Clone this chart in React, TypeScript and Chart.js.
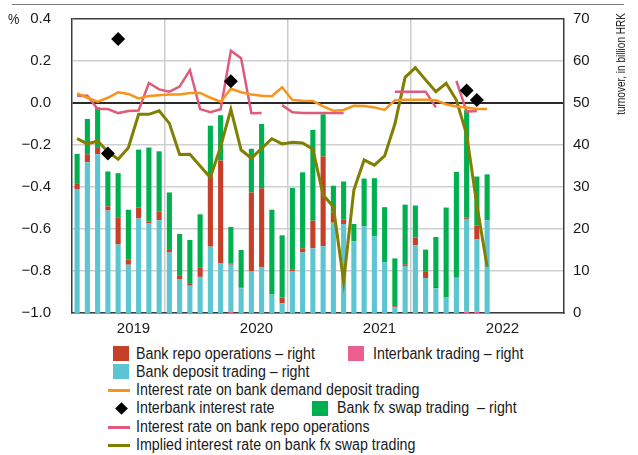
import React, { useEffect, useRef } from 'react';
import { Chart, registerables } from 'chart.js';

Chart.register(...registerables);

const FONT = "'Liberation Sans', Arial, sans-serif";

// ---- categories & tick labels ----
const years = ['2019', '2020', '2021', '2022'];
const monthNums = ['01', '02', '03', '04', '05', '06', '07', '08', '09', '10', '11', '12'];
const categories = years.flatMap((y) => monthNums.map((m) => `${m}/${y}`));
const yearTickValues = [0, 6, 12, 18, 24, 30, 36, 42, 48];
const leftTickValues = [-1.0, -0.8, -0.6, -0.4, -0.2, 0.0, 0.2, 0.4];

// ---- turnover, billion HRK (right axis) ----
const interbankTrading = [
  0, 0, 0, 0, 0, 0, 0, 0, 0, 0, 0, 0, 0, 0, 0, 0.3, 0, 0, 0, 0,
  0, 0, 0, 0, 0, 0, 0, 0, 0, 0, 0, 0, 0, 0, 0, 0, 0, 0, 0.3, 0.3, 0,
];
const bankDeposit = [
  29.4, 35.9, 37.8, 24.4, 16.3, 11.5, 22.5, 21.3, 22.1, 14.4,
  8.1, 6.5, 8.6, 15.8, 11.9, 11.2, 5.9, 10.0, 10.9, 4.4,
  2.3, 9.9, 14.4, 15.4, 15.9, 21.5, 21.2, 17.1, 20.6, 18.2,
  12.1, 1.4, 11.2, 16.1, 8.3, 5.9, 3.8, 8.4, 22.1, 17.2, 22.1,
];
const bankRepo = [
  1.5, 1.9, 1.7, 1.0, 6.5, 1.2, 2.6, 0.5, 2.1, 0.8,
  0.9, 0.6, 2.3, 16.7, 24.4, 0.3, 0.2, 18.7, 18.8, 0,
  1.4, 0.4, 1.0, 6.6, 21.4, 2.4, 1.1, 0, 0, 0,
  0, 0.2, 0.4, 1.9, 1.5, 0.3, 0, 0, 0.3, 3.3, 0,
];
const bankFxSwap = [
  7.0, 8.4, 9.5, 8.3, 10.5, 11.9, 13.8, 17.6, 14.3, 13.5,
  9.8, 10.3, 12.6, 12.1, 10.8, 8.7, 8.9, 10.4, 15.3, 20.2,
  14.8, 19.5, 18.1, 21.6, 10.0, 6.4, 9.0, 4.1, 11.4, 13.9,
  13.1, 11.4, 14.2, 7.6, 5.3, 11.9, 21.3, 25.2, 25.6, 11.7, 10.9,
];

// ---- interest rates, % (left axis) ----
const demandDepositRate = [
  0.046, 0.025, 0.006, 0.025, 0.051, 0.043, 0.022, 0.033, 0.037, 0.040,
  0.040, 0.048, 0.048, 0.025, 0.006, 0.068, 0.051, 0.040, 0.035, 0.032,
  0.075, 0.014, 0.011, 0.010, -0.016, -0.037, -0.033, -0.013, -0.014, -0.021,
  -0.033, 0.013, 0.016, 0.016, 0.016, 0.013, -0.006, -0.017, -0.021, -0.029, -0.029,
];
const interbankRate = [
  null, null, null, -0.24, 0.305, null, null, null, null, null,
  null, null, null, null, null, 0.103, null, null, null, null,
  null, null, null, null, null, null, null, null, null, null,
  null, null, null, null, null, null, null, null, 0.059, 0.014, null,
];
const repoRate = [
  0.035, 0.035, -0.029, -0.029, -0.048, -0.038, -0.036, 0.095, 0.065, 0.054,
  0.078, 0.157, -0.029, -0.044, -0.030, 0.249, 0.213, -0.049, -0.048, null,
  -0.010, -0.044, -0.048, -0.048, -0.048, -0.048, -0.048, null, null, null,
  null, 0.054, 0.054, 0.054, 0.054, -0.021, null, 0.105, -0.041, -0.038, null,
];
const fxSwapImpliedRate = [
  -0.170, -0.195, -0.181, -0.232, -0.268, -0.213, -0.054, -0.054, -0.037, -0.097,
  -0.245, -0.244, -0.300, -0.355, -0.208, -0.030, -0.224, -0.263, -0.216, -0.170,
  -0.195, -0.187, -0.190, -0.220, -0.438, -0.494, -0.850, -0.414, -0.271, -0.296,
  -0.252, -0.100, 0.122, 0.168, 0.110, 0.054, 0.094, 0.014, -0.150, -0.486, -0.780,
];

const C_DEPOSIT = '#5bc6d1';
const C_REPO = '#c63f29';
const C_INTERBANK = '#ef5f8e';
const C_FX = '#00b050';
const C_ORANGE = '#f7941d';
const C_PINKLINE = '#e05b7b';
const C_OLIVE = '#817f00';

const fmtPct = (v: number) => {
  const r = Math.round(v * 10) / 10;
  const s = Math.abs(r).toFixed(1);
  return r < 0 ? '\u2212' + s : s;
};

function ChartCanvas() {
  const ref = useRef<HTMLCanvasElement | null>(null);
  useEffect(() => {
    if (!ref.current) return;
    Chart.defaults.font.family = FONT;
    Chart.defaults.font.size = 15;
    Chart.defaults.color = '#1a1a1a';
    const lineBase = { type: 'line' as const, xAxisID: 'x', yAxisID: 'y', pointRadius: 0, tension: 0, spanGaps: false, order: 0, fill: false };
    const barBase = { type: 'bar' as const, xAxisID: 'x', yAxisID: 'y1', stack: 'turnover', barPercentage: 0.5, categoryPercentage: 1, order: 1, borderWidth: 0 };
    const chart = new Chart(ref.current, {
      type: 'bar',
      data: {
        labels: categories,
        datasets: [
          { ...barBase, label: 'Interbank trading – right', data: interbankTrading, backgroundColor: C_INTERBANK },
          { ...barBase, label: 'Bank deposit trading – right', data: bankDeposit, backgroundColor: C_DEPOSIT },
          { ...barBase, label: 'Bank repo operations – right', data: bankRepo, backgroundColor: C_REPO },
          { ...barBase, label: 'Bank fx swap trading – right', data: bankFxSwap, backgroundColor: C_FX },
          { ...lineBase, label: 'Interest rate on bank demand deposit trading', data: demandDepositRate, borderColor: C_ORANGE, borderWidth: 2.5 },
          { ...lineBase, label: 'Interest rate on bank repo operations', data: repoRate, borderColor: C_PINKLINE, borderWidth: 2.5 },
          { ...lineBase, label: 'Implied interest rate on bank fx swap trading', data: fxSwapImpliedRate, borderColor: C_OLIVE, borderWidth: 3 },
          { ...lineBase, label: 'Interbank interest rate', data: interbankRate, showLine: false, pointStyle: 'rectRot', pointRadius: 7, backgroundColor: '#000', borderColor: '#000', borderWidth: 0, order: -1 },
        ] as any,
      },
      options: {
        animation: false,
        responsive: false,
        devicePixelRatio: 1,
        layout: { padding: { top: 19, left: 0, right: 0, bottom: 0 } },
        plugins: { legend: { display: false }, tooltip: { enabled: false } },
        scales: {
          x: { type: 'category', display: false, offset: true, stacked: true },
          x2: {
            type: 'linear', position: 'bottom', min: 0, max: 48, offset: false,
            afterBuildTicks: (s: any) => { s.ticks = yearTickValues.map((v) => ({ value: v })); },
            afterFit: (s: any) => { s.height = 27; },
            ticks: {
              autoSkip: false, maxRotation: 0, padding: 7,
              callback: (v: any) => (Number(v) % 12 === 6 ? years[(Number(v) - 6) / 12] : ''),
            },
            grid: {
              drawTicks: false, lineWidth: 1.5,
              color: (c: any) => {
                const v = c.tick ? c.tick.value : -1;
                return v % 12 === 0 && v > 0 && v < 48 ? '#cbcbcb' : 'rgba(0,0,0,0)';
              },
            },
            border: { display: true, color: '#3c3c3c', width: 1.5 },
          },
          y: {
            type: 'linear', position: 'left', min: -1, max: 0.4,
            afterBuildTicks: (s: any) => { s.ticks = leftTickValues.map((v) => ({ value: v })); },
            afterFit: (s: any) => { s.width = 72; },
            ticks: { padding: 2, callback: (v: any) => fmtPct(Number(v)) },
            grid: {
              drawTicks: true, tickLength: 19, tickColor: 'rgba(0,0,0,0)',
              color: (c: any) => {
                const v = c.tick ? c.tick.value : 0;
                if (Math.abs(v) < 1e-6) return '#2a2a2a';
                if (Math.abs(v - 0.4) < 1e-6) return '#3c3c3c';
                return '#cfcfcf';
              },
              lineWidth: (c: any) => {
                const v = c.tick ? c.tick.value : 0;
                return Math.abs(v) < 1e-6 ? 2 : 1.5;
              },
            },
            border: { display: true, color: '#3c3c3c', width: 1.5 },
          },
          y1: {
            type: 'linear', position: 'right', min: 0, max: 70, stacked: true,
            afterFit: (s: any) => { s.width = 74; },
            ticks: { stepSize: 10, padding: 2 },
            grid: { display: false, drawTicks: true, tickLength: 7, tickColor: 'rgba(0,0,0,0)' },
            border: { display: true, color: '#3c3c3c', width: 1.5 },
          },
        },
      } as any,
    });
    return () => chart.destroy();
  }, []);
  return <canvas ref={ref} width={638} height={340} style={{ position: 'absolute', left: 0, top: 0, width: 638, height: 340 }} />;
}

const legendText: React.CSSProperties = {
  position: 'absolute', fontFamily: FONT, fontSize: 16, lineHeight: '18px', height: 18,
  color: '#1a1a1a', whiteSpace: 'pre', transform: 'scaleX(0.89)', transformOrigin: 'left center',
};

function Square({ x, cy, color }: { x: number; cy: number; color: string }) {
  return <div style={{ position: 'absolute', left: x, top: cy - 8, width: 16, height: 15, background: color }} />;
}
function LineKey({ cy, color }: { cy: number; color: string }) {
  return <div style={{ position: 'absolute', left: 108, top: cy - 1.5, width: 22, height: 3, background: color }} />;
}

export default function App() {
  return (
    <div style={{ position: 'absolute', left: 0, top: 0, width: 638, height: 455, background: '#fff', overflow: 'hidden' }}>
      <div style={{ position: 'absolute', left: 12, top: 4, width: 612, height: 0, borderTop: '1.5px solid #7a7a7a' }} />
      <ChartCanvas />
      <div style={{ position: 'absolute', left: 8, top: 10, fontFamily: FONT, fontSize: 15, lineHeight: '18px', color: '#1a1a1a', transform: 'scaleX(0.85)', transformOrigin: 'left center' }}>%</div>
      <div
        style={{
          position: 'absolute', left: 621 - 70, top: 64 - 8, width: 140, height: 16, lineHeight: '16px',
          textAlign: 'center', fontFamily: FONT, fontSize: 12.5, color: '#1a1a1a', transform: 'rotate(-90deg) scaleX(0.8)', whiteSpace: 'nowrap',
        }}
      >
        turnover, in billion HRK
      </div>

      <Square x={113} cy={354} color={C_REPO} />
      <div style={{ ...legendText, left: 136, top: 354 - 9 }}>Bank repo operations – right</div>
      <Square x={348} cy={354} color={C_INTERBANK} />
      <div style={{ ...legendText, left: 373, top: 354 - 9 }}>Interbank trading – right</div>

      <Square x={113} cy={372} color={C_DEPOSIT} />
      <div style={{ ...legendText, left: 136, top: 372 - 9 }}>Bank deposit trading – right</div>

      <LineKey cy={390} color={C_ORANGE} />
      <div style={{ ...legendText, left: 136, top: 390 - 9 }}>Interest rate on bank demand deposit trading</div>

      <div style={{ position: 'absolute', left: 121 - 4.5, top: 408 - 4.5, width: 9, height: 9, background: '#000', transform: 'rotate(45deg)' }} />
      <div style={{ ...legendText, left: 136, top: 408 - 9 }}>Interbank interest rate</div>
      <Square x={312} cy={409} color={C_FX} />
      <div style={{ ...legendText, left: 337, top: 408 - 9 }}>Bank fx swap trading  – right</div>

      <LineKey cy={427} color={C_PINKLINE} />
      <div style={{ ...legendText, left: 136, top: 427 - 9 }}>Interest rate on bank repo operations</div>

      <LineKey cy={445} color={C_OLIVE} />
      <div style={{ ...legendText, left: 136, top: 445 - 9 }}>Implied interest rate on bank fx swap trading</div>
    </div>
  );
}
